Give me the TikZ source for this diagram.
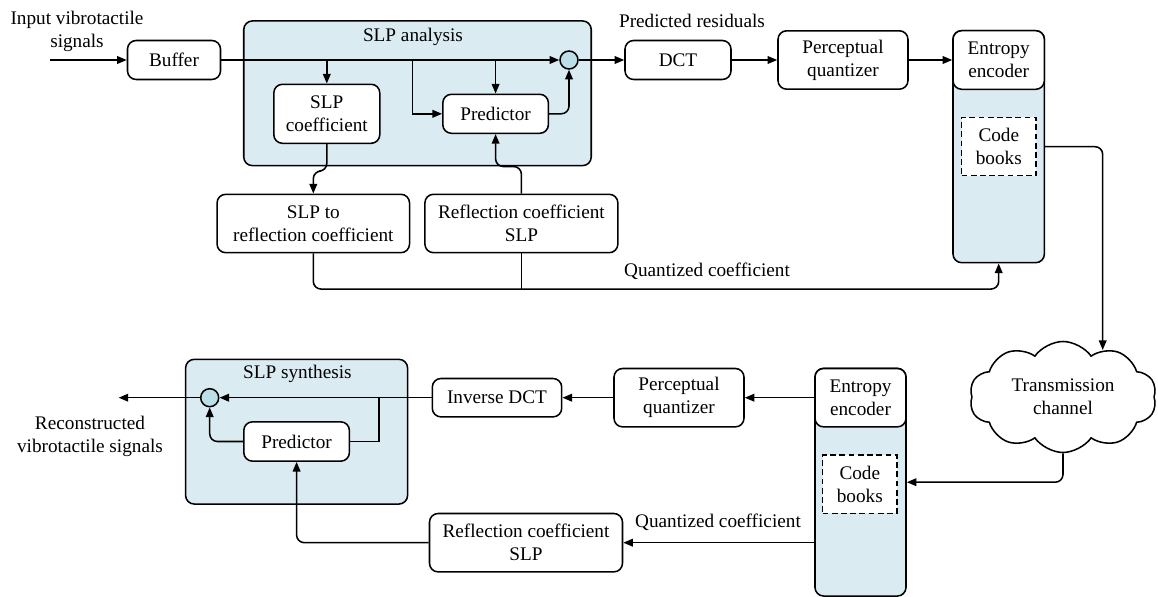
\documentclass[tikz,border=0pt]{standalone}
\usepackage{fontspec}
\setmainfont{Liberation Serif}
\usetikzlibrary{arrows.meta,shapes.symbols}

\newcommand\pxu{0.52pt}
\definecolor{slpblue}{RGB}{218,236,242}
\definecolor{sumblue}{RGB}{188,222,231}

\tikzset{
  sz/.style 2 args={minimum width=#1*\pxu, minimum height=#2*\pxu},
  txt/.style={align=center, inner sep=0pt, font=\fontsize{10}{12}\selectfont},
  blk/.style={txt, draw, fill=white, rounded corners=4.5pt, line width=0.8pt},
  grp/.style={draw, fill=slpblue, rounded corners=4.5pt, line width=0.8pt, inner sep=0pt},
  cbk/.style={txt, draw, fill=white, dash pattern=on 3pt off 1.8pt, line width=0.8pt},
  sumc/.style={draw, circle, fill=sumblue, minimum size=18*\pxu, inner sep=0pt, line width=0.8pt},
  arr/.style={-{Triangle[length=5pt,width=4pt]}, line width=0.8pt},
  ln/.style={line width=0.8pt},
}

\begin{document}
\begin{tikzpicture}[x=0.52pt, y=-0.52pt]
  \useasboundingbox (0,0) rectangle (1158,597);

  % SLP analysis and entropy encoder (background boxes)
  \node[grp, sz={347.5}{144.7}] (ana) at (417.5,93.3) {};
  \node[txt] (anatitle) at (413,37) {SLP analysis};
  \node[grp, sz={91.4}{232}] (ent) at (998.7,146.7) {};
  \node[blk, sz={91.4}{58.6}] (enthead) at (998.7,60) {Entropy\\encoder};
  \node[cbk, sz={74.5}{58.4}] (cb) at (998.8,146.5) {Code\\books};

  % Encoder blocks
  \node[txt] (inlabel) at (77,31.5) {Input vibrotactile\\signals};
  \coordinate (in) at (50,60);
  \node[blk, sz={93}{39}] (buffer) at (174,60) {Buffer};
  \node[blk, sz={106}{59}] (slpcoef) at (326.8,113.8) {SLP\\coefficient};
  \node[blk, sz={105.6}{39}] (pred) at (495.6,113.8) {Predictor};
  \node[sumc] (sum) at (569,60) {};
  \node[txt] (predres) at (692,21) {Predicted residuals};
  \node[blk, sz={106}{39}] (dct) at (678,60) {DCT};
  \node[blk, sz={130}{58.4}] (pq) at (843,60) {Perceptual\\quantizer};
  \node[blk, sz={192.5}{58.4}] (slp2rc) at (313.3,223.5) {SLP to\\reflection coefficient};
  \node[blk, sz={193}{58.4}] (rcslp) at (521.4,223.5) {Reflection coefficient\\SLP};
  \node[txt] (quant) at (707,271.7) {Quantized coefficient};

  % Channel
  \node[cloud, draw, fill=white, line width=0.8pt, cloud puffs=10, cloud puff arc=110,
        aspect=1.7, sz={187}{111}, txt] (chan) at (1063,397) {Transmission\\channel};
  \coordinate (cin) at (1102.7,350);

  % SLP synthesis and entropy encoder (decoder side)
  \node[grp, sz={222}{144.7}] (syn) at (296.6,431.7) {};
  \node[txt] (syntitle) at (297.4,374) {SLP synthesis};
  \node[grp, sz={91}{227.7}] (ent2) at (860.5,482.2) {};
  \node[blk, sz={91}{58.4}] (ent2head) at (860.5,397.7) {Entropy\\encoder};
  \node[cbk, sz={74.5}{58.3}] (cb2) at (859.8,484.2) {Code\\books};

  % Decoder blocks
  \node[blk, sz={130}{58.4}] (pq2) at (679,397.7) {Perceptual\\quantizer};
  \node[blk, sz={129.4}{38.4}] (idct) at (497,397.7) {Inverse DCT};
  \node[sumc] (sum2) at (209.7,397.7) {};
  \node[blk, sz={105.6}{39.3}] (pred2) at (296.6,441.5) {Predictor};
  \node[blk, sz={193}{58.4}] (rcslp2) at (526,542.7) {Reflection coefficient\\SLP};
  \node[txt] (quant2) at (718,522.7) {Quantized coefficient};
  \coordinate (out) at (118.6,397.7);
  \node[txt] (outlabel) at (90,436) {Reconstructed\\vibrotactile signals};

  % Encoder connections
  \draw[arr] (in) -- (buffer.west);
  \draw[arr] (buffer.east) -- (sum.west);
  \draw[arr] (slpcoef.north |- buffer.east) -- (slpcoef.north);
  \draw[arr] (pred.north |- buffer.east) -- (pred.north);
  \coordinate (tap) at (412.5,60);
  \draw[arr] (tap) |- (pred.west);
  \draw[arr, rounded corners=4pt] (pred.east) -| (sum.south);
  \draw[arr, rounded corners=4pt] (slpcoef.south) -- ++(0,27) -| (slp2rc.north);
  \draw[arr, rounded corners=4pt] (rcslp.north) -- ++(0,-27) -| (pred.south);
  \draw[arr] (sum.east) -- (dct.west);
  \draw[arr] (dct.east) -- (pq.west);
  \draw[arr] (pq.east) -- (enthead.west);
  \draw[arr, rounded corners=4pt] (slp2rc.south) |- ([yshift=-25.6*\pxu]ent.south) -- (ent.south);
  \draw[ln] (rcslp.south) -- ++(0,35.6);
  \draw[arr, rounded corners=4pt] (ent.east) -| (cin);

  % Decoder connections
  \draw[arr, rounded corners=4pt] (chan.south) |- (ent2.east);
  \draw[arr] (ent2head.west) -- (pq2.east);
  \draw[arr] (pq2.west) -- (idct.east);
  \draw[arr] (idct.west) -- (sum2.east);
  \coordinate (tap2) at (378.9,397.7);
  \draw[ln] (tap2) |- (pred2.east);
  \draw[arr, rounded corners=4pt] (pred2.west) -| (sum2.south);
  \draw[arr] (sum2.west) -- (out);
  \draw[arr] (ent2.west |- rcslp2.east) -- (rcslp2.east);
  \draw[arr, rounded corners=4pt] (rcslp2.west) -| (pred2.south);
\end{tikzpicture}
\end{document}
